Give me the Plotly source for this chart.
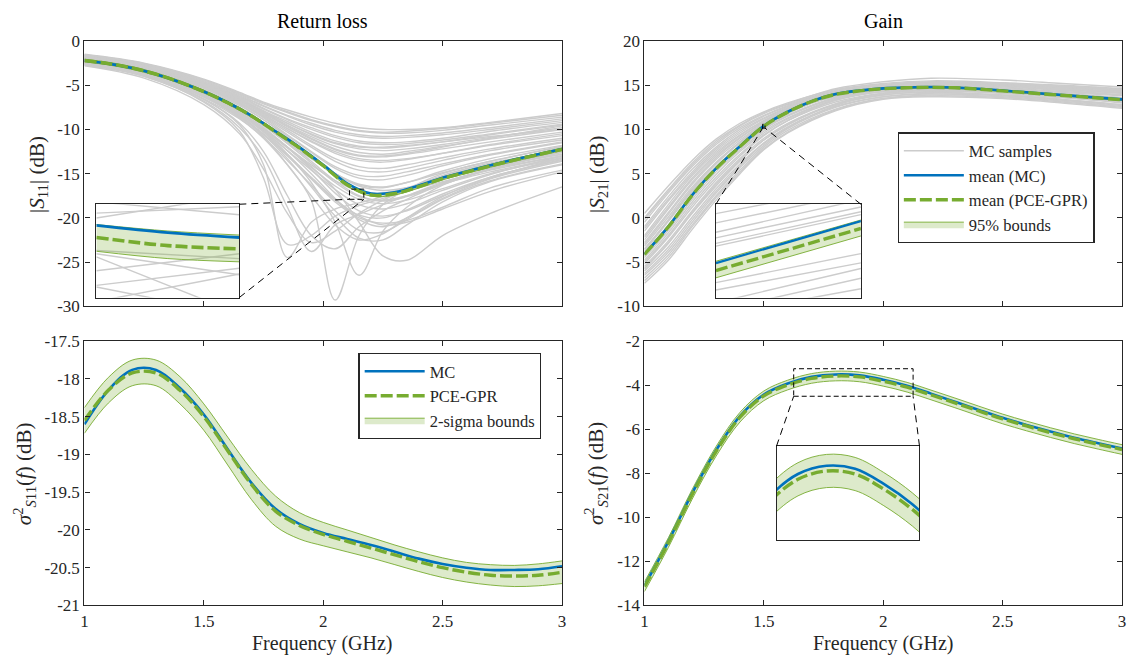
import plotly.graph_objects as go

# ---------------------------------------------------------------- data
FREQ = [1.0, 1.1, 1.2, 1.3, 1.4, 1.5, 1.6, 1.7, 1.8, 1.9, 2.0,
        2.1, 2.2, 2.3, 2.4, 2.5, 2.6, 2.7, 2.8, 2.9, 3.0]

# |S11| (dB)
S11_MC_MEAN = [-2.2, -2.55, -3.05, -3.75, -4.65, -5.7, -6.95, -8.45, -10.2, -12.0, -14.0,
               -16.1, -17.25, -17.1, -16.35, -15.45, -14.75, -14.05, -13.4, -12.8, -12.2]
S11_PCE_MEAN = [-2.2, -2.55, -3.05, -3.75, -4.65, -5.72, -6.98, -8.48, -10.25, -12.08, -14.1,
                -16.25, -17.4, -17.25, -16.47, -15.55, -14.83, -14.12, -13.46, -12.85, -12.25]
S11_PCE_UP = [-2.05, -2.4, -2.9, -3.6, -4.5, -5.57, -6.83, -8.33, -10.1, -11.93, -13.95,
              -16.1, -17.25, -17.1, -16.32, -15.4, -14.68, -13.97, -13.31, -12.7, -12.1]
S11_PCE_LO = [-2.35, -2.7, -3.2, -3.9, -4.8, -5.87, -7.13, -8.63, -10.4, -12.23, -14.25,
              -16.4, -17.55, -17.4, -16.62, -15.7, -14.98, -14.27, -13.61, -13.0, -12.4]

# MC sample curves of |S11|
S11_SAMPLE_FREQ = [1.0, 1.25, 1.5, 1.65, 1.75, 1.85, 1.95, 2.05, 2.15, 2.25, 2.35, 2.5, 2.7, 3.0]
S11_SAMPLES = [
    [-1.5, -2.5, -4.3, -5.8, -6.9, -7.8, -8.6, -9.3, -9.8, -10.0, -10.0, -9.8, -9.2, -8.2],
    [-1.55, -2.55, -4.4, -5.9, -7.0, -8.0, -8.9, -9.6, -10.1, -10.3, -10.2, -9.9, -9.3, -8.4],
    [-1.6, -2.6, -4.4, -6.0, -7.1, -8.1, -9.0, -9.7, -10.2, -10.4, -10.4, -10.1, -9.5, -8.6],
    [-1.65, -2.65, -4.5, -6.1, -7.3, -8.4, -9.3, -10.1, -10.6, -10.8, -10.7, -10.4, -9.8, -8.8],
    [-1.7, -2.7, -4.6, -6.2, -7.4, -8.5, -9.5, -10.3, -10.8, -11.0, -10.9, -10.6, -10.0, -9.0],
    [-1.75, -2.75, -4.7, -6.3, -7.6, -8.8, -9.8, -10.7, -11.3, -11.5, -11.4, -11.0, -10.2, -9.2],
    [-1.8, -2.8, -4.8, -6.4, -7.7, -8.9, -10.0, -10.9, -11.5, -11.7, -11.6, -11.2, -10.5, -9.4],
    [-1.85, -2.85, -4.9, -6.5, -7.9, -9.1, -10.3, -11.3, -11.9, -12.1, -11.9, -11.4, -10.6, -9.5],
    [-1.9, -2.9, -5.0, -6.6, -8.0, -9.3, -10.6, -11.6, -12.2, -12.4, -12.2, -11.7, -10.9, -9.8],
    [-1.95, -2.95, -5.05, -6.7, -8.1, -9.5, -10.8, -11.9, -12.6, -12.8, -12.5, -11.9, -11.1, -10.0],
    [-2.0, -3.0, -5.1, -6.8, -8.2, -9.7, -11.1, -12.3, -13.0, -13.1, -12.8, -12.2, -11.4, -10.3],
    [-1.6, -2.6, -4.7, -6.5, -7.9, -9.3, -10.5, -11.5, -12.0, -12.0, -11.8, -11.4, -10.8, -10.0],
    [-1.7, -2.8, -4.9, -6.7, -8.3, -9.9, -11.3, -12.5, -13.3, -13.5, -13.3, -12.7, -11.8, -10.7],
    [-2.05, -3.1, -5.2, -6.9, -8.4, -9.9, -11.4, -12.7, -13.5, -13.7, -13.4, -12.7, -11.7, -10.5],
    [-2.1, -3.2, -5.3, -7.0, -8.5, -10.1, -11.8, -13.3, -14.2, -14.4, -14.0, -13.2, -12.2, -11.0],
    [-2.1, -3.15, -5.35, -7.1, -8.6, -10.3, -12.0, -13.6, -14.6, -14.8, -14.4, -13.5, -12.4, -11.2],
    [-1.8, -2.9, -5.0, -6.7, -8.1, -9.6, -11.0, -12.2, -12.9, -13.0, -12.7, -12.0, -11.0, -9.6],
    [-1.9, -3.0, -5.2, -7.0, -8.7, -10.6, -12.5, -14.2, -15.2, -15.3, -14.8, -13.9, -12.8, -11.4],
    [-2.2, -3.3, -5.5, -7.3, -8.9, -10.7, -12.6, -14.4, -15.5, -15.7, -15.2, -14.1, -12.9, -11.5],
    [-2.3, -3.4, -5.6, -7.5, -9.2, -11.1, -13.1, -15.0, -16.3, -16.6, -16.0, -14.7, -13.3, -11.8],
    [-2.3, -3.4, -5.8, -7.8, -9.5, -11.5, -13.3, -15.0, -16.2, -16.5, -16.0, -14.9, -13.6, -11.9],
    [-2.0, -3.1, -5.3, -7.2, -8.9, -10.9, -13.0, -15.0, -16.4, -16.9, -16.6, -15.6, -14.2, -12.8],
    [-2.4, -3.6, -6.0, -8.1, -9.9, -12.0, -14.0, -15.8, -17.0, -17.2, -16.6, -15.3, -13.9, -12.2],
    [-2.35, -3.5, -5.9, -7.9, -9.6, -11.6, -13.8, -16.0, -17.6, -18.0, -17.5, -16.1, -14.4, -12.5],
    [-2.2, -3.3, -5.6, -7.6, -9.3, -11.4, -13.6, -15.8, -17.5, -18.1, -17.6, -16.2, -14.5, -12.6],
    [-2.45, -3.65, -6.1, -8.2, -10.0, -12.1, -14.3, -16.4, -17.9, -18.4, -18.0, -16.7, -15.0, -13.3],
    [-2.5, -3.7, -6.2, -8.3, -10.2, -12.4, -14.6, -16.8, -18.5, -19.0, -18.4, -16.9, -15.1, -13.0],
    [-2.6, -3.8, -6.3, -8.5, -10.5, -12.9, -15.4, -17.9, -19.7, -20.0, -19.1, -17.3, -15.4, -13.4],
    [-2.3, -3.5, -6.0, -8.2, -10.1, -12.4, -15.0, -17.8, -20.2, -21.0, -20.0, -17.8, -15.6, -13.6],
    [-2.7, -3.9, -6.5, -8.8, -10.9, -13.5, -16.3, -19.2, -21.4, -21.6, -20.2, -17.9, -15.8, -13.9],
    [-2.4, -3.6, -6.1, -8.4, -10.6, -13.3, -16.5, -19.8, -22.3, -22.5, -20.8, -18.2, -15.9, -14.0],
    [-2.5, -3.7, -6.3, -8.7, -11.0, -14.0, -17.5, -20.8, -22.5, -21.8, -20.0, -17.6, -15.4, -13.5],
    [-2.2, -3.4, -5.9, -8.0, -9.8, -12.0, -14.5, -17.2, -19.2, -19.8, -19.2, -17.5, -15.5, -13.2],
    [-2.55, -3.75, -6.3, -8.6, -10.6, -13.0, -15.6, -18.2, -20.0, -20.6, -20.3, -18.8, -16.6, -14.6],
    [-2.6, -3.9, -6.6, -9.5, -14.0, -24.5, -20.5, -19.0, -18.3, -17.6, -16.8, -15.6, -14.3, -12.8],
    [-2.7, -4.0, -6.9, -10.2, -15.5, -23.0, -22.0, -19.8, -18.6, -17.8, -17.0, -15.9, -14.6, -13.0],
    [-2.4, -3.6, -6.1, -8.5, -10.8, -14.0, -18.0, -29.3, -22.0, -18.5, -16.8, -15.0, -13.6, -12.0],
    [-2.3, -3.5, -5.9, -8.2, -10.2, -12.8, -16.0, -20.5, -26.5, -21.5, -18.8, -16.3, -14.5, -12.6],
    [-2.5, -3.7, -6.2, -8.3, -10.0, -12.0, -14.2, -16.8, -20.5, -24.3, -24.8, -22.0, -19.5, -16.5],
    [-2.8, -4.2, -7.2, -10.5, -14.5, -19.5, -22.8, -21.5, -19.5, -18.0, -16.8, -15.2, -13.8, -12.4],
    [-2.6, -3.9, -6.6, -9.3, -12.5, -17.5, -22.0, -23.5, -21.0, -19.2, -17.9, -16.2, -14.8, -13.2],
    [-2.7, -4.0, -6.8, -9.8, -13.2, -18.8, -23.8, -20.8, -19.6, -18.5, -17.5, -16.0, -14.5, -13.0],
    [-2.4, -3.6, -6.1, -8.3, -10.3, -12.8, -15.5, -18.0, -19.8, -20.8, -20.5, -19.0, -17.0, -14.8],
]

# |S21| (dB)
S21_MC_MEAN = [-4.1, -1.0, 2.6, 5.6, 8.1, 10.4, 12.0, 13.2, 14.0, 14.4, 14.65,
               14.75, 14.8, 14.75, 14.6, 14.4, 14.2, 14.0, 13.8, 13.6, 13.4]
S21_PCE_MEAN = [-4.14, -1.04, 2.56, 5.56, 8.06, 10.36, 11.96, 13.16, 13.96, 14.36, 14.61,
                14.71, 14.76, 14.71, 14.56, 14.36, 14.16, 13.96, 13.76, 13.56, 13.36]
S21_PCE_UP = [-4.06, -0.96, 2.64, 5.64, 8.14, 10.44, 12.04, 13.24, 14.04, 14.44, 14.69,
              14.79, 14.84, 14.79, 14.64, 14.44, 14.24, 14.04, 13.84, 13.64, 13.44]
S21_PCE_LO = [-4.22, -1.12, 2.48, 5.48, 7.98, 10.28, 11.88, 13.08, 13.88, 14.28, 14.53,
              14.63, 14.68, 14.63, 14.48, 14.28, 14.08, 13.88, 13.68, 13.48, 13.28]

S21_SAMPLE_FREQ = [1.0, 1.1, 1.2, 1.3, 1.4, 1.5, 1.6, 1.8, 2.0, 2.2, 2.5, 2.75, 3.0]
S21_SAMPLES = [
    [0.5, 3.6, 6.5, 8.9, 10.7, 12.0, 13.0, 14.5, 15.2, 15.5, 15.3, 15.0, 14.6],
    [0.0, 3.2, 6.2, 8.7, 10.5, 11.9, 12.9, 14.6, 15.4, 15.8, 15.6, 15.2, 14.8],
    [-0.2, 3.0, 6.0, 8.5, 10.4, 11.8, 12.8, 14.4, 15.1, 15.4, 15.2, 14.8, 14.4],
    [-0.5, 2.8, 5.8, 8.3, 10.2, 11.6, 12.7, 14.3, 15.0, 15.3, 15.1, 14.7, 14.3],
    [-1.0, 2.4, 5.5, 8.0, 10.0, 11.5, 12.6, 14.1, 14.7, 14.9, 14.6, 14.2, 13.8],
    [-1.2, 2.1, 5.2, 7.8, 9.8, 11.3, 12.5, 14.2, 14.9, 15.2, 15.0, 14.6, 14.2],
    [-1.5, 1.9, 5.0, 7.6, 9.6, 11.2, 12.4, 14.2, 15.0, 15.3, 15.2, 14.9, 14.6],
    [-2.0, 1.5, 4.8, 7.4, 9.4, 11.0, 12.2, 13.7, 14.3, 14.5, 14.2, 13.8, 13.3],
    [-2.2, 1.2, 4.5, 7.2, 9.3, 11.0, 12.3, 14.1, 14.9, 15.2, 15.0, 14.6, 14.2],
    [-2.5, 1.0, 4.3, 7.0, 9.1, 10.9, 12.2, 14.0, 14.8, 15.1, 14.9, 14.5, 14.1],
    [-2.8, 0.6, 4.0, 6.8, 9.0, 10.8, 12.1, 13.9, 14.6, 14.9, 14.7, 14.3, 13.9],
    [-3.0, 0.4, 3.8, 6.6, 8.8, 10.7, 12.1, 14.0, 14.9, 15.2, 15.1, 14.8, 14.4],
    [-3.2, 0.1, 3.5, 6.3, 8.6, 10.6, 12.0, 13.9, 14.7, 15.0, 14.8, 14.4, 13.9],
    [-3.5, -0.3, 3.2, 6.1, 8.5, 10.5, 11.9, 13.8, 14.6, 14.8, 14.5, 14.0, 13.5],
    [-3.6, -0.2, 3.3, 6.2, 8.5, 10.4, 11.9, 13.8, 14.8, 15.1, 14.9, 14.5, 14.1],
    [-3.8, -0.4, 3.0, 5.8, 8.2, 10.2, 11.8, 13.9, 14.9, 15.3, 15.2, 14.9, 14.5],
    [-4.0, -0.8, 2.7, 5.7, 8.1, 10.1, 11.6, 13.6, 14.5, 14.7, 14.3, 13.8, 13.2],
    [-4.1, -0.9, 2.5, 5.6, 8.0, 10.1, 11.6, 13.6, 14.5, 14.8, 14.5, 14.0, 13.5],
    [-4.3, -1.0, 2.4, 5.5, 7.9, 10.0, 11.5, 13.5, 14.4, 14.7, 14.4, 13.9, 13.4],
    [-4.5, -1.4, 2.1, 5.2, 7.7, 9.8, 11.3, 13.4, 14.3, 14.6, 14.2, 13.7, 13.1],
    [-4.8, -1.7, 1.8, 4.9, 7.5, 9.6, 11.2, 13.3, 14.3, 14.6, 14.3, 13.8, 13.2],
    [-5.0, -2.0, 1.5, 4.6, 7.2, 9.4, 11.0, 13.1, 14.1, 14.4, 14.1, 13.6, 13.0],
    [-5.2, -2.2, 1.2, 4.3, 7.0, 9.3, 11.0, 13.3, 14.4, 14.8, 14.6, 14.1, 13.6],
    [-5.5, -2.6, 0.8, 4.0, 6.7, 9.0, 10.7, 12.9, 13.9, 14.2, 13.9, 13.4, 12.8],
    [-5.7, -2.8, 0.6, 3.8, 6.5, 8.8, 10.6, 12.8, 13.9, 14.3, 14.1, 13.6, 13.1],
    [-5.8, -2.9, 0.5, 3.6, 6.4, 8.8, 10.5, 12.9, 14.1, 14.5, 14.4, 14.0, 13.6],
    [-6.0, -3.3, 0.1, 3.3, 6.1, 8.5, 10.3, 12.6, 13.7, 14.0, 13.8, 13.3, 12.7],
    [-6.3, -3.6, -0.2, 3.0, 5.9, 8.4, 10.2, 12.7, 14.0, 14.4, 14.3, 13.9, 13.4],
    [-6.5, -3.9, -0.5, 2.8, 5.7, 8.2, 10.1, 12.5, 13.7, 14.1, 13.9, 13.4, 12.8],
    [-6.8, -4.2, -0.8, 2.5, 5.4, 8.0, 9.9, 12.3, 13.5, 13.8, 13.6, 13.1, 12.5],
    [-7.1, -4.5, -1.0, 2.3, 5.2, 7.8, 9.7, 12.2, 13.5, 13.9, 13.7, 13.2, 12.6],
    [-7.4, -4.8, -1.3, 2.0, 5.0, 7.7, 9.6, 12.1, 13.4, 13.7, 13.5, 13.0, 12.4],
]

# variance of S11 (dB)
V11_MC = [-18.6, -18.15, -17.88, -17.88, -18.12, -18.47, -18.93, -19.38, -19.72, -19.92, -20.04,
          -20.12, -20.2, -20.29, -20.38, -20.45, -20.5, -20.53, -20.53, -20.52, -20.48]
V11_PCE = [-18.55, -18.15, -17.92, -17.92, -18.15, -18.5, -18.95, -19.4, -19.75, -19.94, -20.06,
           -20.15, -20.24, -20.33, -20.42, -20.5, -20.56, -20.6, -20.61, -20.6, -20.56]
V11_UP = [-18.38, -17.98, -17.75, -17.75, -17.97, -18.33, -18.77, -19.2, -19.55, -19.77, -19.9,
          -20.0, -20.1, -20.2, -20.29, -20.37, -20.43, -20.46, -20.47, -20.45, -20.41]
V11_LO = [-18.72, -18.32, -18.09, -18.09, -18.33, -18.68, -19.14, -19.6, -19.95, -20.12, -20.21,
          -20.29, -20.37, -20.46, -20.55, -20.63, -20.69, -20.73, -20.75, -20.74, -20.71]

# variance of S21 (dB)
V21_MC = [-13.1, -11.1, -8.9, -6.95, -5.4, -4.42, -3.92, -3.62, -3.51, -3.55, -3.75,
          -4.02, -4.38, -4.75, -5.12, -5.48, -5.8, -6.1, -6.38, -6.63, -6.87]
V21_PCE = [-13.15, -11.15, -8.95, -7.0, -5.45, -4.48, -3.99, -3.69, -3.58, -3.62, -3.82,
           -4.09, -4.44, -4.8, -5.17, -5.53, -5.85, -6.15, -6.43, -6.68, -6.92]
V21_UP = [-12.93, -10.93, -8.73, -6.78, -5.23, -4.26, -3.77, -3.47, -3.36, -3.40, -3.60,
          -3.87, -4.22, -4.58, -4.95, -5.31, -5.63, -5.93, -6.21, -6.46, -6.70]
V21_LO = [-13.37, -11.37, -9.17, -7.22, -5.67, -4.70, -4.21, -3.91, -3.80, -3.84, -4.04,
          -4.31, -4.66, -5.02, -5.39, -5.75, -6.07, -6.37, -6.65, -6.90, -7.14]

# zoom windows (inset ranges)
ZOOM11_X = [2.11, 2.17]
ZOOM11_Y = [-17.9, -16.75]
ZOOM21_X = [1.495, 1.505]
ZOOM21_Y = [10.15, 10.6]
ZOOMV21_X = [1.625, 2.125]
ZOOMV21_Y = [-4.5, -3.25]

# values read inside the |S11| inset
INS11_F = [2.11, 2.14, 2.17]
INS11_MC = [-17.01, -17.10, -17.16]
INS11_PCE = [-17.16, -17.26, -17.30]
INS11_UP = [-17.0, -17.08, -17.13]
INS11_LO = [-17.33, -17.42, -17.46]
INS11_SAMPLES = [[-16.86, -16.78], [-16.92, -16.64], [-16.72, -16.88], [-17.36, -17.62],
                 [-17.40, -18.10], [-17.75, -17.54], [-17.95, -17.61], [-17.57, -17.36],
                 [-17.32, -17.42], [-17.77, -18.12]]

# values read inside the |S21| inset
INS21_F = [1.495, 1.505]
INS21_MC = [10.316, 10.519]
INS21_PCE = [10.28, 10.483]
INS21_UP = [10.325, 10.524]
INS21_LO = [10.245, 10.447]
INS21_SAMPLES = [[10.555, 10.69], [10.51, 10.654], [10.465, 10.622], [10.438, 10.587],
                 [10.411, 10.564], [10.398, 10.55], [10.222, 10.362], [10.186, 10.317],
                 [10.125, 10.29], [10.086, 10.243], [10.065, 10.192]]

X_TICKS = [1, 1.5, 2, 2.5, 3]
X_TICKTEXT = ["1", "1.5", "2", "2.5", "3"]
Y11_TICKS = [-30, -25, -20, -15, -10, -5, 0]
Y11_TEXT = ["-30", "-25", "-20", "-15", "-10", "-5", "0"]
Y21_TICKS = [-10, -5, 0, 5, 10, 15, 20]
Y21_TEXT = ["-10", "-5", "0", "5", "10", "15", "20"]
YV11_TICKS = [-21, -20.5, -20, -19.5, -19, -18.5, -18, -17.5]
YV11_TEXT = ["-21", "-20.5", "-20", "-19.5", "-19", "-18.5", "-18", "-17.5"]
YV21_TICKS = [-14, -12, -10, -8, -6, -4, -2]
YV21_TEXT = ["-14", "-12", "-10", "-8", "-6", "-4", "-2"]

# ---------------------------------------------------------------- layout helpers
W, H = 1134, 664
FONT = "Liberation Serif"
INK = "#262626"
BLUE = "#0072BD"
GREEN = "#77AC30"
FILL = "rgba(119,172,48,0.25)"
GRAY = "#cccccc"
PCE_DASH = "12px,4px"


def dx(a, b):
    return [a / W, b / W]


def dy(top, bottom):
    return [1 - bottom / H, 1 - top / H]


DOM_LX, DOM_RX = dx(81, 562), dx(645, 1126)
DOM_TY, DOM_BY = dy(33, 306), dy(342, 614)
DOM_I11 = (dx(93, 237), dy(201, 297))
DOM_I21 = (dx(717, 863), dy(201, 297))
DOM_IV21 = (dx(778, 922), dy(450, 547))


def main_axis(domain, anchor, rng, tv, tt, labels=True):
    return dict(domain=domain, anchor=anchor, range=rng, showline=True, linecolor=INK,
                linewidth=1.3, mirror="ticks", ticks="inside", ticklen=5, tickwidth=1,
                tickcolor=INK, showgrid=False, zeroline=False, tickmode="array",
                tickvals=tv, ticktext=tt, showticklabels=labels,
                tickfont=dict(family=FONT, size=17, color=INK), fixedrange=True)


def inset_axis(domain, anchor, rng):
    return dict(domain=domain, anchor=anchor, range=rng, showline=True, linecolor=INK,
                linewidth=1.3, mirror=True, ticks="", showticklabels=False,
                showgrid=False, zeroline=False, fixedrange=True)


fig = go.Figure()


def line(x, y, xa, ya, color, width, dash=None, name=None, legend=None, rank=None,
         fill=None, fillcolor=None):
    fig.add_trace(go.Scatter(
        x=x, y=y, xaxis=xa, yaxis=ya, mode="lines",
        line=dict(color=color, width=width, dash=dash, shape="spline", smoothing=1.0),
        fill=fill, fillcolor=fillcolor, hoverinfo="skip",
        name=name, showlegend=name is not None,
        legend=legend if legend else "legend", legendrank=rank if rank else 1000))


def mean_block(x, mc, pce, up, lo, xa, ya, legend=None, names=None, wb=2.6, wg=3.4, wf=0.9,
               ranks=(2, 3, 4)):
    names = names or [None, None, None]
    line(x, lo, xa, ya, GREEN, wf)
    line(x, up, xa, ya, GREEN, wf, fill="tonexty", fillcolor=FILL,
         name=names[2], legend=legend, rank=ranks[2])
    line(x, mc, xa, ya, BLUE, wb, name=names[0], legend=legend, rank=ranks[0])
    line(x, pce, xa, ya, GREEN, wg, dash=PCE_DASH, name=names[1], legend=legend, rank=ranks[1])


# ---- top-left: |S11|
for i, s in enumerate(S11_SAMPLES):
    line(S11_SAMPLE_FREQ, s, "x", "y", GRAY, 1.4,
         name="MC samples" if i == 0 else None, legend="legend", rank=1)
mean_block(FREQ, S11_MC_MEAN, S11_PCE_MEAN, S11_PCE_UP, S11_PCE_LO, "x", "y",
           legend="legend", names=["mean (MC)", "mean (PCE-GPR)", "95% bounds"])

# ---- top-right: |S21|
for s in S21_SAMPLES:
    line(S21_SAMPLE_FREQ, s, "x2", "y2", GRAY, 1.4)
mean_block(FREQ, S21_MC_MEAN, S21_PCE_MEAN, S21_PCE_UP, S21_PCE_LO, "x2", "y2")

# ---- bottom-left: variance S11
mean_block(FREQ, V11_MC, V11_PCE, V11_UP, V11_LO, "x3", "y3",
           legend="legend2", names=["MC", "PCE-GPR", "2-sigma bounds"], ranks=(1, 2, 3))

# ---- bottom-right: variance S21
mean_block(FREQ, V21_MC, V21_PCE, V21_UP, V21_LO, "x4", "y4")

# ---- inset |S11|
for s in INS11_SAMPLES:
    line(ZOOM11_X, s, "x5", "y5", GRAY, 1.4)
mean_block(INS11_F, INS11_MC, INS11_PCE, INS11_UP, INS11_LO, "x5", "y5", wb=2.8, wg=3.6)

# ---- inset |S21|
for s in INS21_SAMPLES:
    line(ZOOM21_X, s, "x6", "y6", GRAY, 1.4)
mean_block(INS21_F, INS21_MC, INS21_PCE, INS21_UP, INS21_LO, "x6", "y6", wb=2.2, wg=3.4)

# ---- inset variance S21 (same series, zoomed)
mean_block(FREQ, V21_MC, V21_PCE, V21_UP, V21_LO, "x7", "y7", wb=2.6, wg=3.4)

legend_style = dict(xanchor="left", yanchor="top", bgcolor="white", bordercolor=INK,
                    borderwidth=1.2, itemwidth=60, traceorder="normal",
                    font=dict(family=FONT, size=16.5, color=INK), tracegroupgap=0)

layout = dict(
    width=W, height=H, margin=dict(l=0, r=0, t=0, b=0),
    paper_bgcolor="white", plot_bgcolor="white",
    xaxis=main_axis(DOM_LX, "y", [1, 3], X_TICKS, X_TICKTEXT, labels=False),
    yaxis=main_axis(DOM_TY, "x", [-30, 0], Y11_TICKS, Y11_TEXT),
    xaxis2=main_axis(DOM_RX, "y2", [1, 3], X_TICKS, X_TICKTEXT, labels=False),
    yaxis2=main_axis(DOM_TY, "x2", [-10, 20], Y21_TICKS, Y21_TEXT),
    xaxis3=main_axis(DOM_LX, "y3", [1, 3], X_TICKS, X_TICKTEXT),
    yaxis3=main_axis(DOM_BY, "x3", [-21, -17.5], YV11_TICKS, YV11_TEXT),
    xaxis4=main_axis(DOM_RX, "y4", [1, 3], X_TICKS, X_TICKTEXT),
    yaxis4=main_axis(DOM_BY, "x4", [-14, -2], YV21_TICKS, YV21_TEXT),
    xaxis5=inset_axis(DOM_I11[0], "y5", ZOOM11_X),
    yaxis5=inset_axis(DOM_I11[1], "x5", ZOOM11_Y),
    xaxis6=inset_axis(DOM_I21[0], "y6", ZOOM21_X),
    yaxis6=inset_axis(DOM_I21[1], "x6", ZOOM21_Y),
    xaxis7=inset_axis(DOM_IV21[0], "y7", ZOOMV21_X),
    yaxis7=inset_axis(DOM_IV21[1], "x7", ZOOMV21_Y),
    legend=dict(x=900 / W, y=1 - 127 / H, **legend_style),
    legend2=dict(x=357 / W, y=1 - 354 / H, **legend_style),
    showlegend=True,
)
fig.update_layout(**layout)


# ---- zoom rectangles and connector lines
def p2d(p, dom, rng):
    return rng[0] + (p - dom[0]) / (dom[1] - dom[0]) * (rng[1] - rng[0])


def zoom_marks(xr, yr, xa, ya, xdom, ydom, rng_x, rng_y, ins_dom, corners):
    fig.add_shape(type="rect", xref=xa, yref=ya, x0=xr[0], x1=xr[1], y0=yr[0], y1=yr[1],
                  line=dict(color="black", width=1, dash="5px,3px"), layer="above")
    for (ix, iy), (rx, ry) in corners:
        px = p2d(ins_dom[0][ix], xdom, rng_x)
        py = p2d(ins_dom[1][iy], ydom, rng_y)
        fig.add_shape(type="line", xref=xa, yref=ya, x0=px, y0=py, x1=xr[rx], y1=yr[ry],
                      line=dict(color="black", width=1, dash="7px,5px"), layer="above")


# corner indices: (inset x idx, inset y idx) -> (rect x idx, rect y idx)
zoom_marks(ZOOM11_X, ZOOM11_Y, "x", "y", DOM_LX, DOM_TY, [1, 3], [-30, 0], DOM_I11,
           [((1, 1), (0, 0)), ((1, 0), (1, 0))])
zoom_marks(ZOOM21_X, ZOOM21_Y, "x2", "y2", DOM_RX, DOM_TY, [1, 3], [-10, 20], DOM_I21,
           [((0, 1), (0, 0)), ((1, 1), (1, 0))])
zoom_marks(ZOOMV21_X, ZOOMV21_Y, "x4", "y4", DOM_RX, DOM_BY, [1, 3], [-14, -2], DOM_IV21,
           [((0, 1), (0, 0)), ((1, 1), (1, 0))])


# ---- titles and axis labels
def text(s, x, y, size=20, angle=0, color="black"):
    fig.add_annotation(text=s, x=x / W, y=1 - y / H, xref="paper", yref="paper",
                       showarrow=False, textangle=angle, xanchor="center", yanchor="middle",
                       font=dict(family=FONT, size=size, color=color))


text("Return loss", 321, 12)
text("Gain", 886, 12)
text("Frequency (GHz)", 321, 653, color=INK)
text("Frequency (GHz)", 886, 653, color=INK)
text("|<i>S</i><sub>11</sub>| (dB)", 34, 170, size=21, angle=-90, color=INK)
text("|<i>S</i><sub>21</sub>| (dB)", 598, 170, size=21, angle=-90, color=INK)
text("<i>σ</i><sup>2</sup><sub><i>S</i>11</sub>(<i>f</i>) (dB)", 20, 478,
     size=21, angle=-90, color=INK)
text("<i>σ</i><sup>2</sup><sub><i>S</i>21</sub>(<i>f</i>) (dB)", 596, 478,
     size=21, angle=-90, color=INK)

fig.write_html("out.html")
